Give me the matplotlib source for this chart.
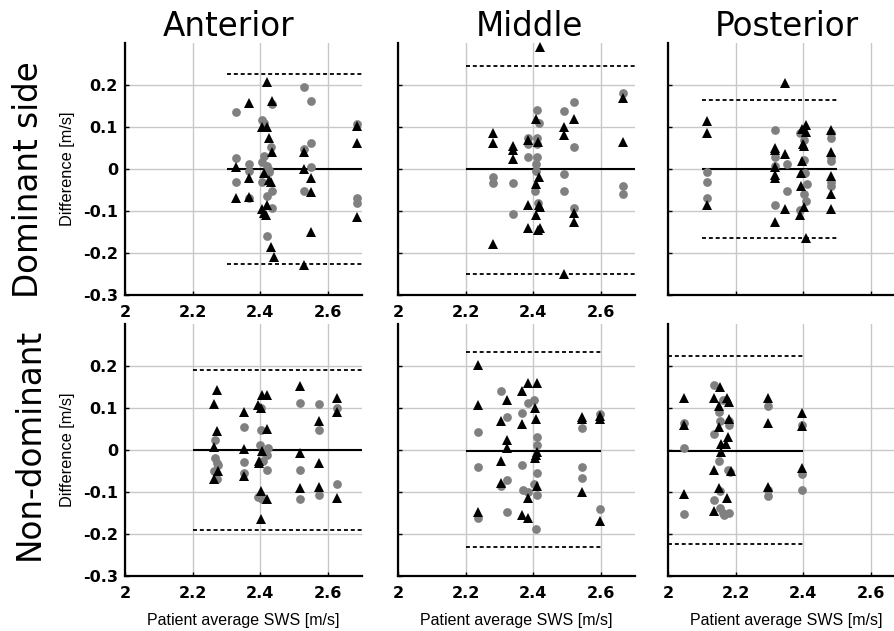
import matplotlib
matplotlib.use("Agg")
import matplotlib.pyplot as plt

# Bland-Altman data: (patient average SWS, difference), circles = gray, triangles = black
ant_dom_circles = [(2.327, 0.136), (2.327, 0.026), (2.327, -0.031), (2.367, 0.013), (2.367, -0.005),
                   (2.367, -0.07), (2.405, 0.117), (2.41, 0.11), (2.41, 0.03), (2.405, 0.016),
                   (2.42, 0.008), (2.425, -0.003), (2.405, -0.032), (2.42, -0.065), (2.435, -0.094),
                   (2.435, -0.052), (2.43, 0.053), (2.435, 0.155), (2.42, -0.16), (2.425, -0.008),
                   (2.53, 0.196), (2.53, 0.047), (2.53, -0.053), (2.55, 0.162), (2.55, 0.062),
                   (2.55, 0.005), (2.685, 0.108), (2.685, -0.07), (2.685, -0.08)]
ant_dom_triangles = [(2.327, 0.005), (2.327, -0.068), (2.367, 0.157), (2.367, -0.022), (2.367, -0.066),
                     (2.42, 0.208), (2.435, 0.162), (2.405, 0.10), (2.42, 0.10), (2.425, 0.075),
                     (2.435, 0.04), (2.41, -0.01), (2.425, -0.025), (2.43, -0.03), (2.42, -0.085),
                     (2.405, -0.095), (2.41, -0.105), (2.415, -0.11), (2.43, -0.185), (2.44, -0.21),
                     (2.53, 0.04), (2.53, 0.0), (2.53, -0.228), (2.55, -0.022), (2.55, -0.055),
                     (2.55, -0.15), (2.685, 0.103), (2.685, 0.062), (2.685, -0.115)]

mid_dom_circles = [(2.28, -0.02), (2.28, -0.033), (2.34, -0.033), (2.34, -0.108), (2.41, 0.14),
                   (2.415, 0.11), (2.383, 0.075), (2.383, 0.06), (2.41, 0.075), (2.41, 0.06),
                   (2.41, 0.028), (2.407, 0.012), (2.407, -0.005), (2.405, -0.052), (2.413, -0.08),
                   (2.383, 0.028), (2.49, 0.138), (2.49, -0.013), (2.49, -0.053), (2.52, 0.16),
                   (2.52, 0.053), (2.52, -0.093), (2.665, 0.18), (2.665, -0.04), (2.665, -0.06)]
mid_dom_triangles = [(2.28, 0.085), (2.28, 0.063), (2.28, -0.178), (2.34, 0.055), (2.34, 0.045),
                     (2.34, 0.025), (2.408, 0.12), (2.385, 0.07), (2.413, 0.065), (2.415, -0.02),
                     (2.408, -0.035), (2.385, -0.085), (2.415, -0.085), (2.418, -0.09), (2.408, -0.11),
                     (2.385, -0.14), (2.413, -0.145), (2.42, -0.14), (2.418, 0.29), (2.49, 0.1),
                     (2.49, 0.08), (2.49, -0.25), (2.52, 0.118), (2.52, -0.105), (2.52, -0.125),
                     (2.665, 0.168), (2.665, 0.065)]

post_dom_circles = [(2.115, -0.008), (2.115, -0.03), (2.115, -0.07), (2.315, 0.092), (2.315, 0.028),
                    (2.315, 0.008), (2.315, -0.086), (2.35, 0.012), (2.35, -0.052), (2.39, 0.085),
                    (2.401, 0.07), (2.401, 0.022), (2.406, -0.01), (2.411, -0.035), (2.401, -0.06),
                    (2.409, -0.075), (2.391, -0.098), (2.481, 0.085), (2.481, 0.075), (2.481, 0.028),
                    (2.481, 0.02), (2.481, -0.03), (2.481, -0.04)]
post_dom_triangles = [(2.115, 0.115), (2.115, 0.085), (2.115, -0.085), (2.315, 0.05), (2.315, 0.045),
                      (2.315, 0.005), (2.315, -0.015), (2.315, -0.022), (2.315, -0.125), (2.347, 0.035),
                      (2.347, -0.095), (2.347, 0.205), (2.409, 0.105), (2.396, 0.095), (2.409, 0.088),
                      (2.399, 0.06), (2.401, 0.055), (2.396, 0.02), (2.393, -0.01), (2.394, -0.04),
                      (2.391, -0.11), (2.409, -0.165), (2.401, -0.09), (2.481, 0.093), (2.481, 0.04),
                      (2.481, -0.016), (2.481, -0.06), (2.481, -0.095)]

ant_nd_circles = [(2.265, 0.024), (2.265, -0.02), (2.272, -0.03), (2.262, -0.05), (2.272, -0.07),
                  (2.275, -0.035), (2.35, 0.055), (2.35, -0.028), (2.35, -0.055), (2.402, 0.1),
                  (2.401, 0.047), (2.4, 0.012), (2.407, -0.005), (2.42, -0.013), (2.422, 0.005),
                  (2.407, -0.025), (2.42, -0.047), (2.392, -0.113), (2.405, -0.117), (2.518, 0.113),
                  (2.518, -0.048), (2.518, -0.117), (2.572, 0.11), (2.572, 0.048), (2.572, -0.108),
                  (2.626, 0.1), (2.626, -0.082)]
ant_nd_triangles = [(2.264, 0.11), (2.271, 0.143), (2.271, 0.045), (2.264, 0.008), (2.274, -0.05),
                    (2.264, -0.07), (2.35, 0.09), (2.35, 0.002), (2.35, -0.063), (2.392, 0.108),
                    (2.403, 0.1), (2.405, 0.132), (2.42, 0.13), (2.42, 0.05), (2.406, -0.002),
                    (2.395, -0.025), (2.397, -0.03), (2.403, -0.097), (2.42, -0.117), (2.403, -0.165),
                    (2.518, 0.152), (2.518, -0.008), (2.518, -0.09), (2.572, 0.068), (2.572, -0.03),
                    (2.572, -0.088), (2.626, 0.125), (2.626, 0.09), (2.626, -0.115)]

mid_nd_circles = [(2.237, 0.042), (2.237, -0.04), (2.237, -0.163), (2.304, 0.14), (2.304, -0.085),
                  (2.321, 0.078), (2.321, -0.072), (2.321, -0.148), (2.367, 0.088), (2.367, -0.036),
                  (2.383, 0.112), (2.37, -0.095), (2.383, -0.1), (2.402, 0.12), (2.41, 0.03),
                  (2.41, 0.012), (2.41, -0.055), (2.402, -0.08), (2.41, -0.108), (2.408, -0.188),
                  (2.542, 0.052), (2.542, -0.04), (2.542, -0.067), (2.597, 0.085), (2.597, -0.14)]
mid_nd_triangles = [(2.237, 0.202), (2.237, 0.108), (2.237, -0.148), (2.304, 0.07), (2.304, -0.025),
                    (2.304, -0.078), (2.321, 0.118), (2.321, 0.025), (2.321, 0.005), (2.367, 0.14),
                    (2.367, 0.063), (2.367, -0.155), (2.383, 0.16), (2.383, -0.115), (2.383, -0.162),
                    (2.41, 0.16), (2.406, 0.1), (2.408, 0.075), (2.41, -0.005), (2.408, -0.012),
                    (2.405, -0.02), (2.41, -0.085), (2.542, 0.078), (2.542, 0.075), (2.542, -0.1),
                    (2.597, 0.08), (2.597, 0.075), (2.597, -0.17)]

post_nd_circles = [(2.047, 0.065), (2.047, 0.005), (2.047, -0.152), (2.136, 0.155), (2.136, 0.038),
                   (2.136, -0.12), (2.161, 0.12), (2.151, 0.09), (2.153, 0.07), (2.151, -0.025),
                   (2.155, -0.098), (2.155, -0.138), (2.161, -0.15), (2.165, -0.155), (2.181, 0.07),
                   (2.181, 0.06), (2.178, -0.048), (2.183, -0.052), (2.181, -0.15), (2.294, 0.105),
                   (2.294, -0.095), (2.294, -0.11), (2.397, 0.06), (2.397, -0.058), (2.397, -0.095)]
post_nd_triangles = [(2.047, 0.125), (2.047, 0.06), (2.047, -0.105), (2.136, 0.125), (2.136, -0.047),
                     (2.136, -0.145), (2.155, 0.15), (2.151, 0.105), (2.151, 0.055), (2.158, 0.015),
                     (2.158, -0.005), (2.151, -0.09), (2.175, 0.125), (2.179, 0.115), (2.179, 0.075),
                     (2.178, 0.03), (2.171, 0.015), (2.185, -0.05), (2.175, -0.115), (2.294, 0.125),
                     (2.294, 0.065), (2.294, -0.088), (2.397, 0.088), (2.397, 0.058), (2.397, -0.042)]

# bias line, upper / lower limits of agreement, and x extent of those lines
ant_dom_lines = (0.0, 0.227, -0.227, 2.3, 2.7)
mid_dom_lines = (0.0, 0.246, -0.249, 2.2, 2.7)
post_dom_lines = (0.0, 0.165, -0.165, 2.1, 2.5)
ant_nd_lines = (0.0, 0.19, -0.19, 2.2, 2.7)
mid_nd_lines = (-0.002, 0.233, -0.232, 2.2, 2.6)
post_nd_lines = (-0.002, 0.223, -0.224, 2.0, 2.4)

col_titles = ["Anterior", "Middle", "Posterior"]
row_titles = ["Dominant side", "Non-dominant"]
x_ticks = [2, 2.2, 2.4, 2.6]
x_tick_labels = ["2", "2.2", "2.4", "2.6"]
y_ticks = [-0.3, -0.2, -0.1, 0, 0.1, 0.2]
y_tick_labels = ["-0.3", "-0.2", "-0.1", "0", "0.1", "0.2"]

W, H = 894, 631
fig = plt.figure(figsize=(W / 100, H / 100), dpi=100)


def px_axes(left, top, width, height):
    return fig.add_axes([left / W, 1 - (top + height) / H, width / W, height / H])


def draw_panel(ax, circles, triangles, lines, show_x, show_y):
    mean, upper, lower, x0, x1 = lines
    ax.set_xlim(2.0, 2.7)
    ax.set_ylim(-0.3, 0.3)
    ax.set_xticks(x_ticks)
    ax.set_yticks(y_ticks)
    ax.set_xticklabels(x_tick_labels if show_x else [])
    ax.set_yticklabels(y_tick_labels if show_y else [])
    ax.grid(True, color="#c8c8c8", linewidth=1.0)
    ax.set_axisbelow(True)
    for s in ("top", "right"):
        ax.spines[s].set_visible(False)
    for s in ("left", "bottom"):
        ax.spines[s].set_linewidth(1.6)
    ax.tick_params(axis="y", direction="in", length=3, width=1, pad=5, labelsize=11.5)
    ax.tick_params(axis="x", direction="in", length=3, width=1, pad=7, labelsize=11.5)
    for lab in ax.get_xticklabels() + ax.get_yticklabels():
        lab.set_fontweight("bold")

    ax.hlines(mean, x0, x1, color="black", linewidth=1.5, zorder=3)
    ax.hlines([upper, lower], x0, x1, color="black", linewidth=1.3,
              linestyles=(0, (2.2, 1.6)), zorder=3)

    cx = [p[0] for p in circles]
    cy = [p[1] for p in circles]
    tx = [p[0] for p in triangles]
    ty = [p[1] for p in triangles]
    ax.plot(cx, cy, "o", color="#808080", markersize=6.3, markeredgewidth=0,
            zorder=4, clip_on=False)
    ax.plot(tx, ty, "^", color="black", markersize=7.3, markeredgewidth=0,
            zorder=5, clip_on=False)


panels = [
    [(ant_dom_circles, ant_dom_triangles, ant_dom_lines),
     (mid_dom_circles, mid_dom_triangles, mid_dom_lines),
     (post_dom_circles, post_dom_triangles, post_dom_lines)],
    [(ant_nd_circles, ant_nd_triangles, ant_nd_lines),
     (mid_nd_circles, mid_nd_triangles, mid_nd_lines),
     (post_nd_circles, post_nd_triangles, post_nd_lines)],
]

col_lefts = [125, 398, 668]
row_tops = [43, 324]
ax_w, ax_h = 237, 252

for r in range(2):
    for c in range(3):
        ax = px_axes(col_lefts[c], row_tops[r], ax_w, ax_h)
        circles, triangles, lines = panels[r][c]
        show_x = not (r == 0 and c == 2)
        draw_panel(ax, circles, triangles, lines, show_x, c == 0)
        if c == 0:
            ax.set_ylabel("Difference [m/s]", family="Liberation Sans",
                          fontsize=11.8, labelpad=6)
        if r == 1:
            ax.set_xlabel("Patient average SWS [m/s]", family="Liberation Sans",
                          fontsize=11.5, labelpad=9)

title_x = [229, 529, 787]
for c, t in enumerate(col_titles):
    fig.text(title_x[c] / W, 1 - 27 / H, t, ha="center", va="center", fontsize=23.5)

row_y = [180, 444]
for r, t in enumerate(row_titles):
    fig.text(29 / W, 1 - row_y[r] / H, t, ha="center", va="center",
             rotation=90, fontsize=23.5)

fig.savefig("out.png", dpi=100)
